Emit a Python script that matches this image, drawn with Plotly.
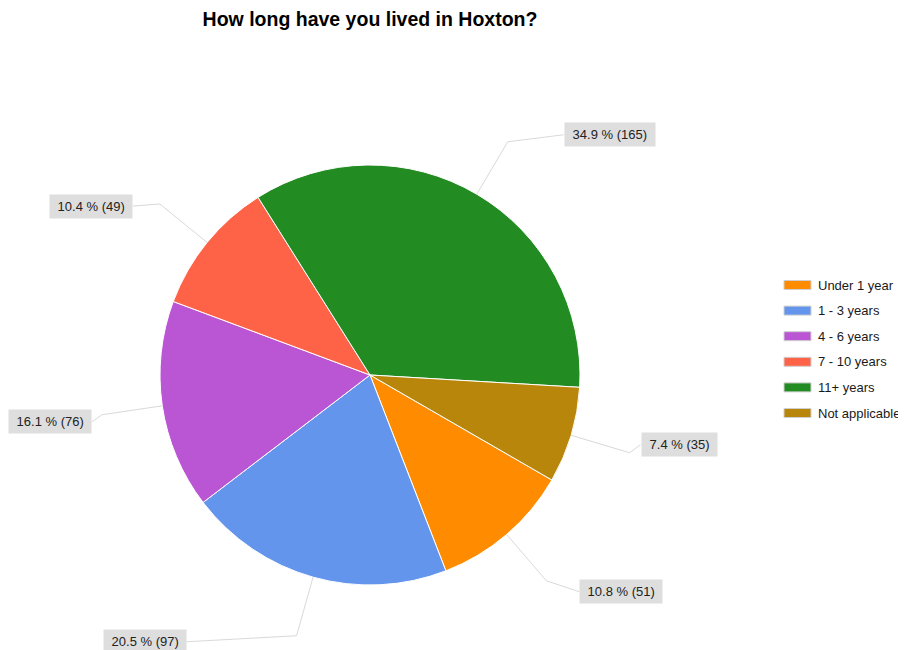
import math
import plotly.graph_objects as go

# ---- data ----
categories = ["Under 1 year", "1 - 3 years", "4 - 6 years", "7 - 10 years", "11+ years", "Not applicable"]
counts = [51, 97, 76, 49, 165, 35]
colors = ["#FF8C00", "#6495ED", "#BA55D3", "#FF6347", "#228B22", "#B8860B"]
title_text = "How long have you lived in Hoxton?"

# ---- layout constants (screen pixels; page body has an 8px margin) ----
OFF = 8
W, H = 906 - OFF, 650 - OFF
CX, CY, R = 370, 375, 210
ROTATION = 120
BEND = 1.29
# offset from bend point to label edge, per slice
label_offsets = [(33, 11), (-110, 6), (-10, 7), (-27, 2), (56, -7), (11, -8)]
FONT = "Arial, Liberation Sans, sans-serif"


def px(x):
    return (x - OFF) / W


def py(y):
    return 1 - (y - OFF) / H


total = sum(counts)
fig = go.Figure()
fig.add_trace(go.Pie(
    labels=categories,
    values=counts,
    marker=dict(colors=colors, line=dict(color="white", width=1)),
    sort=False,
    direction="clockwise",
    rotation=ROTATION,
    textinfo="none",
    hoverinfo="label+value+percent",
    showlegend=False,
    domain=dict(x=[px(CX - R), px(CX + R)], y=[py(CY + R), py(CY - R)]),
))

shapes = []
annotations = []
cum = 0
for i, (cat, v) in enumerate(zip(categories, counts)):
    mid = math.radians(ROTATION + (cum + v / 2) / total * 360)
    cum += v
    s, c = math.sin(mid), -math.cos(mid)
    x0, y0 = CX + R * s, CY + R * c
    x1, y1 = CX + BEND * R * s, CY + BEND * R * c
    dx, dy = label_offsets[i]
    x2, y2 = x1 + dx, y1 + dy
    shapes.append(dict(
        type="path", xref="paper", yref="paper",
        path=f"M {px(x0)} {py(y0)} L {px(x1)} {py(y1)} L {px(x2)} {py(y2)}",
        line=dict(color="#d9d9d9", width=1),
    ))
    pct = v / total * 100
    annotations.append(dict(
        x=px(x2), y=py(y2), xref="paper", yref="paper",
        xanchor="left" if s > 0 else "right", yanchor="middle",
        text=f"\u00a0{pct:.1f} % ({v})\u00a0",
        showarrow=False,
        bgcolor="#dedede",
        borderpad=4,
        font=dict(family=FONT, size=13, color="#222222"),
    ))

# manual legend
LEG_X, LEG_Y0, LEG_DY = 784, 285, 25.6
for i, (cat, col) in enumerate(zip(categories, colors)):
    yc = LEG_Y0 + i * LEG_DY
    shapes.append(dict(
        type="rect", xref="paper", yref="paper",
        x0=px(LEG_X), x1=px(LEG_X + 27), y0=py(yc - 4.5), y1=py(yc + 4.5),
        fillcolor=col, line=dict(color="#d0d0d0", width=1),
    ))
    annotations.append(dict(
        x=px(LEG_X + 32), y=py(yc), xref="paper", yref="paper",
        xanchor="left", yanchor="middle", text=cat, showarrow=False,
        font=dict(family=FONT, size=13, color="#1a1a1a"),
    ))

fig.update_layout(
    width=W, height=H,
    margin=dict(l=0, r=0, t=0, b=0),
    paper_bgcolor="white",
    plot_bgcolor="white",
    title=dict(
        text=f"<b>{title_text}</b>",
        x=px(CX), xanchor="center", xref="paper",
        y=py(19), yanchor="middle", yref="paper",
        font=dict(family=FONT, size=19.5, color="#000000"),
    ),
    shapes=shapes,
    annotations=annotations,
    showlegend=False,
)

fig.write_html("out.html")
